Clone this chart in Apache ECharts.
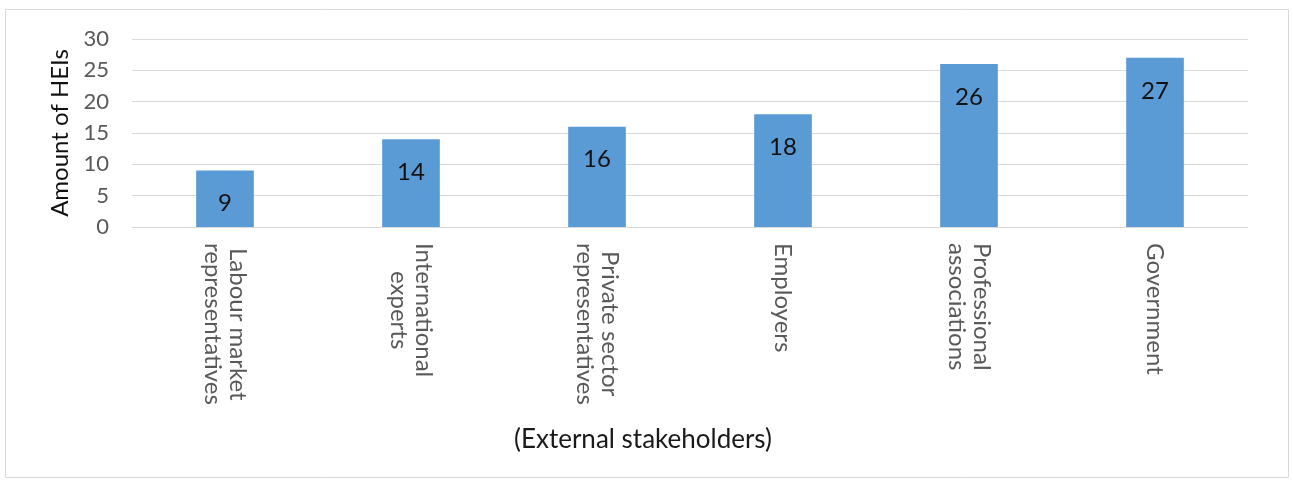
<!DOCTYPE html>
<html>
<head>
<meta charset="utf-8">
<title>External stakeholders</title>
<script src="https://cdn.jsdelivr.net/npm/echarts@6/dist/echarts.min.js"></script>
<style>
  html, body { margin: 0; padding: 0; background: #ffffff; }
  #chart { width: 1293px; height: 480px; }
</style>
</head>
<body>
<div id="chart"></div>
<script>
// Stakeholder groups and the number of HEIs involving each
const categories = [
  'Labour market\nrepresentatives',
  'International\nexperts',
  'Private sector\nrepresentatives',
  'Employers',
  'Professional\nassociations',
  'Government'
];
const heiCounts = [9, 14, 16, 18, 26, 27];
const yTicks = [0, 5, 10, 15, 20, 25, 30];

const FONT = 'Lato, "Open Sans", sans-serif';
const GREY = '#595959';
const LINE = '#d9d9d9';
const CAT_SIZE = 24;

// Centre the lines of each category label against its longest line:
// the shorter line gets a leading pad of half the width difference.
const measureCtx = document.createElement('canvas').getContext('2d');
measureCtx.font = CAT_SIZE + 'px ' + FONT;
const catRich = {};
const catText = categories.map((label, i) => {
  const lines = label.split('\n');
  const widths = lines.map(s => measureCtx.measureText(s).width);
  const widest = Math.max.apply(null, widths);
  return lines.map((s, j) => {
    const key = 'c' + i + '_' + j;
    catRich[key] = {
      color: GREY,
      fontFamily: FONT,
      fontSize: CAT_SIZE,
      lineHeight: 25,
      padding: [0, 0, 0, Math.round((widest - widths[j]) / 2)]
    };
    return '{' + key + '|' + s + '}';
  }).join('\n');
});

const chart = echarts.init(document.getElementById('chart'), null, { renderer: 'canvas' });

chart.setOption({
  animation: false,
  backgroundColor: '#ffffff',
  textStyle: { fontFamily: FONT },
  graphic: [
    {
      type: 'rect',
      shape: { x: 5.5, y: 9.5, width: 1283, height: 468 },
      style: { fill: 'none', stroke: LINE, lineWidth: 1 },
      silent: true
    },
    {
      type: 'text',
      x: 643,
      y: 440,
      style: {
        text: '(External stakeholders)',
        fontFamily: FONT,
        fontSize: 26,
        fill: '#1a1a1a',
        align: 'center',
        verticalAlign: 'middle'
      }
    }
  ],
  grid: { left: 132, right: 45, top: 39, height: 188, containLabel: false },
  xAxis: {
    type: 'category',
    data: categories,
    axisLine: { show: true, lineStyle: { color: LINE, width: 1 } },
    axisTick: { show: false },
    axisLabel: {
      rotate: -90,
      margin: 16,
      interval: 0,
      color: GREY,
      fontFamily: FONT,
      fontSize: CAT_SIZE,
      lineHeight: 25,
      formatter: (v, idx) => catText[idx],
      rich: catRich
    }
  },
  yAxis: {
    type: 'value',
    min: yTicks[0],
    max: yTicks[yTicks.length - 1],
    interval: yTicks[1] - yTicks[0],
    name: 'Amount of HEIs',
    nameLocation: 'middle',
    nameGap: 59,
    nameRotate: 90,
    nameTextStyle: { color: '#111111', fontFamily: FONT, fontSize: 24 },
    axisLine: { show: false },
    axisTick: { show: false },
    axisLabel: { color: GREY, fontFamily: FONT, fontSize: 22, margin: 23 },
    splitLine: { show: true, lineStyle: { color: LINE, width: 1 } }
  },
  series: [
    {
      type: 'bar',
      data: heiCounts,
      barWidth: '31%',
      itemStyle: { color: '#5b9bd5' },
      label: {
        show: true,
        position: 'insideTop',
        distance: 21,
        color: '#111111',
        fontFamily: FONT,
        fontSize: 24
      }
    }
  ]
});
</script>
</body>
</html>
